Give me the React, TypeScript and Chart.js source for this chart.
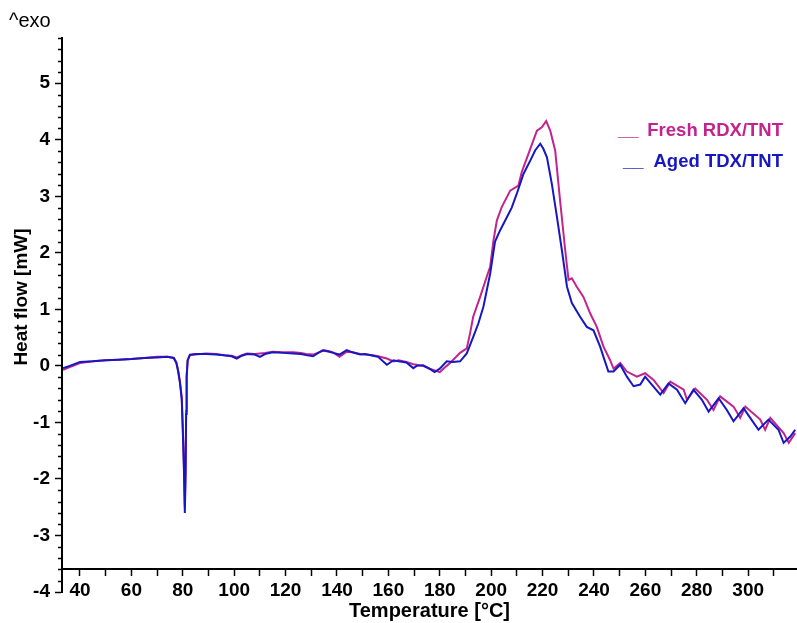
import React, { useEffect, useRef } from 'react';
import { Chart, registerables } from 'chart.js';

Chart.register(...registerables);

// ---- Data ----
const freshTemp = [
  33.4, 36, 40, 45, 50, 55, 60, 65, 70, 74, 76.5, 77.5, 78.2, 78.9, 79.6, 80.0, 80.4, 80.8, 81.1, 81.3, 81.5, 81.9,
  82.8, 85, 89, 93, 96, 99, 101, 103, 105, 108, 110, 112, 115, 119, 123, 126, 128, 130.7, 133, 134.6, 137, 138.5,
  141, 143.8, 146, 149, 151, 154, 156, 159.4, 162, 164, 167, 169.7, 171, 173.5, 176, 178, 180, 182.7, 184, 187.9,
  190.5, 191.8, 193, 195.7, 198.3, 199.6, 200.9, 202.2, 204.1, 207.4, 210.6, 211.9, 214.5, 217.8, 219.7, 221.4,
  223, 224.9, 226.8, 228.8, 230.1, 231.4, 233.3, 235.9, 238.5, 241.1, 243.7, 246.3, 247.6, 250.2, 252.8, 256.7,
  259.9, 263.2, 267.1, 269.7, 274.9, 276.2, 279.4, 284, 286.5, 289.1, 294.3, 296.9, 298.9, 304.7, 306.6, 308.6,
  313.8, 315.8, 318.3,
];
const freshHeatFlow = [
  -0.07, -0.02, 0.05, 0.08, 0.1, 0.11, 0.12, 0.14, 0.16, 0.16, 0.14, 0.06, -0.08, -0.28, -0.55, -1.1, -1.7, -2.5, -1.8,
  -0.8, -0.18, 0.1, 0.19, 0.2, 0.22, 0.21, 0.19, 0.18, 0.15, 0.19, 0.22, 0.21, 0.22, 0.23, 0.25, 0.24, 0.24, 0.23,
  0.21, 0.2, 0.24, 0.28, 0.26, 0.24, 0.16, 0.25, 0.24, 0.21, 0.2, 0.19, 0.17, 0.13, 0.08, 0.1, 0.07, 0.03, 0.02, 0.0,
  -0.05, -0.08, -0.11, 0.0, 0.05, 0.23, 0.31, 0.58, 0.87, 1.22, 1.58, 1.75, 2.22, 2.57, 2.81, 3.1, 3.19, 3.43, 3.75,
  4.16, 4.22, 4.33, 4.16, 3.81, 2.93, 2.05, 1.52, 1.55, 1.4, 1.22, 0.93, 0.69, 0.34, 0.1, -0.05, 0.05, -0.1, -0.19,
  -0.13, -0.25, -0.48, -0.28, -0.42, -0.6, -0.4, -0.6, -0.78, -0.54, -0.72, -0.92, -0.72, -0.95, -1.13, -0.92,
  -1.19, -1.36, -1.19,
];
const agedTemp = [
  33.4, 36, 40, 45, 50, 55, 60, 65, 70, 74, 76.5, 77.5, 78.2, 78.9, 79.6, 80.0, 80.4, 80.8, 81.1, 81.3, 81.5, 81.9,
  82.8, 85, 89, 93, 96, 99, 101, 103, 105, 108, 110, 112, 115, 119, 123, 126, 128, 130.7, 133, 134.6, 137, 138.5,
  141, 143.8, 146, 149, 151, 154, 156, 159.4, 162, 164, 167, 169.7, 171, 173.5, 176, 178, 180, 182.7, 185, 187.9,
  190.5, 193.1, 195, 197, 199.6, 201.5, 203.5, 206.1, 208, 210, 212.6, 215.2, 217.1, 219.1, 220.3, 221.7, 223.6,
  225.6, 227.5, 229.5, 231.4, 234.6, 237.2, 239.8, 242.4, 243.7, 245.6, 247.6, 250.2, 252.8, 255.4, 258, 259.9,
  262.5, 265.8, 269, 272.3, 275.5, 278.7, 282, 284.6, 288.5, 291.7, 294.3, 298.2, 300.8, 304, 307.9, 311.8, 313.8,
  316.4, 318.3,
];
const agedHeatFlow = [
  -0.04, 0.0, 0.07, 0.08, 0.1, 0.11, 0.12, 0.14, 0.15, 0.16, 0.14, 0.05, -0.1, -0.3, -0.6, -1.13, -1.75, -2.6, -1.85,
  -0.85, -0.2, 0.1, 0.2, 0.21, 0.21, 0.2, 0.19, 0.17, 0.13, 0.18, 0.21, 0.2, 0.16, 0.21, 0.24, 0.23, 0.22, 0.21, 0.19,
  0.17, 0.24, 0.27, 0.25, 0.23, 0.2, 0.28, 0.24, 0.2, 0.21, 0.18, 0.16, 0.02, 0.1, 0.08, 0.06, -0.04, 0.0, 0.01,
  -0.05, -0.11, -0.05, 0.08, 0.07, 0.08, 0.22, 0.52, 0.75, 1.05, 1.63, 2.2, 2.4, 2.63, 2.8, 3.05, 3.4, 3.63, 3.81,
  3.93, 3.84, 3.69, 3.22, 2.63, 2.05, 1.4, 1.11, 0.87, 0.69, 0.63, 0.34, 0.16, -0.1, -0.1, 0.02, -0.19, -0.36, -0.33,
  -0.19, -0.33, -0.51, -0.31, -0.42, -0.66, -0.42, -0.6, -0.81, -0.57, -0.78, -0.98, -0.75, -0.92, -1.13, -0.95,
  -1.13, -1.36, -1.25, -1.13,
];

const seriesNames = ['Fresh RDX/TNT', 'Aged TDX/TNT'];
const xTitle = 'Temperature [°C]';
const yTitle = 'Heat flow [mW]';
const exoLabel = '^exo';

const FRESH_COLOR = '#C2238C';
const AGED_COLOR = '#1717C2';
const FONT = '"Liberation Sans", Arial, sans-serif';

const decorPlugin = {
  id: 'decor',
  afterDraw(chart: any) {
    const { ctx, chartArea, scales } = chart;
    const y = scales.y;
    const x = scales.x;
    ctx.save();
    // minor y ticks
    ctx.strokeStyle = '#000';
    ctx.lineWidth = 1.5;
    const axisX = x.left;
    for (let i = 0; i <= 49; i++) {
      const v = -4 + i * 0.2;
      if (Math.abs(v - Math.round(v)) < 1e-6) continue;
      const py = Math.round(y.getPixelForValue(v)) + 0.5;
      ctx.beginPath();
      ctx.moveTo(axisX - 4, py);
      ctx.lineTo(axisX, py);
      ctx.stroke();
    }
    ctx.fillStyle = '#000';
    // x axis title
    ctx.font = `bold 20px ${FONT}`;
    ctx.textAlign = 'center';
    ctx.textBaseline = 'middle';
    ctx.fillText(xTitle, (chartArea.left + chartArea.right) / 2, 611);
    // y axis title
    ctx.save();
    ctx.translate(22, 297);
    ctx.rotate(-Math.PI / 2);
    ctx.font = `bold 19px ${FONT}`;
    ctx.fillText(yTitle, 0, 0);
    ctx.restore();
    // ^exo
    ctx.font = `20px ${FONT}`;
    ctx.textAlign = 'left';
    ctx.textBaseline = 'alphabetic';
    ctx.fillText(exoLabel, 9, 27);
    // legend
    ctx.font = `bold 18.5px ${FONT}`;
    ctx.fillStyle = FRESH_COLOR;
    ctx.textAlign = 'left';
    ctx.fillText('__', 618, 136);
    ctx.textAlign = 'right';
    ctx.fillText(seriesNames[0], 783, 136);
    ctx.fillStyle = AGED_COLOR;
    ctx.textAlign = 'left';
    ctx.fillText('__', 623, 167);
    ctx.textAlign = 'right';
    ctx.fillText(seriesNames[1], 783, 167);
    ctx.restore();
  },
};

export default function App() {
  const ref = useRef<HTMLCanvasElement>(null);
  useEffect(() => {
    if (!ref.current) return;
    const chart = new Chart(ref.current, {
      type: 'line',
      data: {
        datasets: [
          {
            label: seriesNames[1],
            data: agedTemp.map((t, i) => ({ x: t, y: agedHeatFlow[i] })),
            borderColor: AGED_COLOR,
            borderWidth: 2,
            pointRadius: 0,
            tension: 0,
            order: 0,
          },
          {
            label: seriesNames[0],
            data: freshTemp.map((t, i) => ({ x: t, y: freshHeatFlow[i] })),
            borderColor: FRESH_COLOR,
            borderWidth: 2,
            pointRadius: 0,
            tension: 0,
            order: 1,
          },
        ],
      },
      options: {
        animation: false,
        responsive: false,
        events: [],
        layout: { padding: { top: 38, left: 0, right: 0, bottom: 31 } },
        plugins: { legend: { display: false }, tooltip: { enabled: false } },
        scales: {
          x: {
            type: 'linear',
            axis: 'x',
            min: 33,
            max: 319,
            position: { y: -3.6 },
            grid: { drawOnChartArea: false, drawTicks: true, tickLength: 6, color: '#000', tickWidth: 1.5 },
            border: { display: true, color: '#000', width: 2 },
            ticks: {
              stepSize: 10,
              includeBounds: false,
              autoSkip: false,
              maxRotation: 0,
              padding: 4,
              color: '#000',
              font: { family: FONT, size: 19, weight: 'bold' },
              callback: (v: any) => (Number(v) % 20 === 0 ? String(v) : ''),
            },
          },
          y: {
            type: 'linear',
            min: -4,
            max: 5.8,
            afterFit: (s: any) => { s.width = 62; },
            grid: { drawOnChartArea: false, drawTicks: true, tickLength: 7, color: '#000', tickWidth: 1.5 },
            border: { display: true, color: '#000', width: 2 },
            ticks: {
              stepSize: 1,
              includeBounds: false,
              autoSkip: false,
              padding: 5,
              color: '#000',
              font: { family: FONT, size: 19, weight: 'bold' },
            },
          },
        },
      },
      plugins: [decorPlugin],
    } as any);
    return () => chart.destroy();
  }, []);
  return (
    <div style={{ position: 'fixed', left: 0, top: 0, width: 797, height: 623, background: '#fff' }}>
      <canvas ref={ref} width={797} height={623} style={{ display: 'block' }} />
    </div>
  );
}
